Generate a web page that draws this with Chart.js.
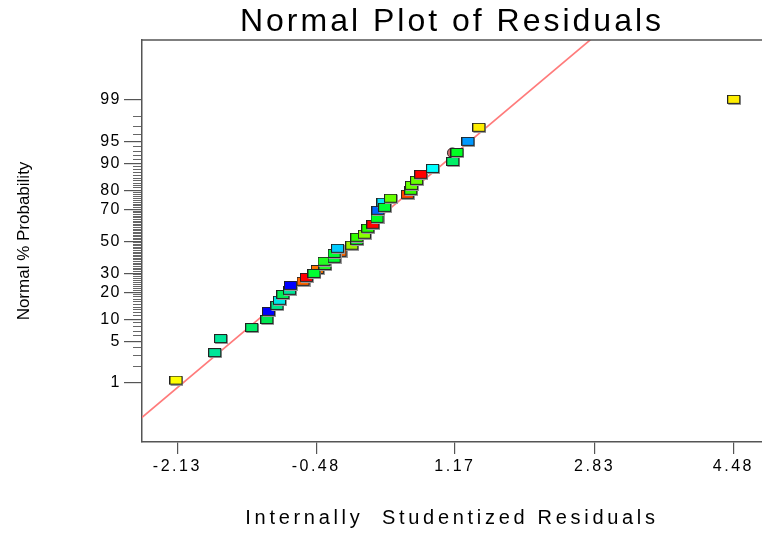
<!DOCTYPE html>
<html>
<head>
<meta charset="utf-8">
<script src="https://cdn.jsdelivr.net/npm/chart.js@4/dist/chart.umd.min.js"></script>
<style>
  html, body { margin: 0; padding: 0; background: #fff; }
</style>
</head>
<body>
<canvas id="residual-chart" width="762" height="534"></canvas>
<script>
// residuals (x) and normal % probability (y)
const residuals = [-2.14, -1.68, -1.61, -1.24, -1.06, -1.04, -0.94, -0.91, -0.87, -0.79,
  -0.78, -0.63, -0.59, -0.46, -0.50, -0.37, -0.38, -0.19, -0.26, -0.26,
  -0.22, -0.05, 0.01, 0.01, 0.10, 0.14, 0.20, 0.25, 0.26, 0.32,
  0.34, 0.41, 0.61, 0.65, 0.66, 0.72, 0.77, 0.91, 1.15, 1.20,
  1.33, 1.46, 4.49];
const probabilities = [1.1, 3.3, 5.4, 7.7, 9.8, 12.3, 14.4, 16.4, 18.9, 20.8,
  23.2, 25.3, 27.4, 31.9, 29.6, 34.3, 36.8, 42.5, 38.7, 41.8,
  45.1, 47.1, 50.3, 52.3, 54.3, 58.2, 60.7, 64.4, 69.2, 73.7,
  70.9, 75.8, 77.8, 79.7, 81.9, 84.0, 86.3, 88.3, 90.4, 92.7,
  94.9, 96.9, 99.0];
const pointColors = ['#ffff00', '#00e699', '#00e699', '#00ee66', '#00e650', '#0000ff', '#00e68c', '#00e5e5', '#00ee55', '#00e699',
  '#0000ff', '#ff6600', '#ff0000', '#ff7700', '#00ff33', '#22ff22', '#22ff22', '#ff6600', '#00ff33', '#00ff33',
  '#00ccff', '#99ee00', '#00ff22', '#33ff00', '#88ff00', '#22ff00', '#ff0000', '#00ff22', '#0066ff', '#00e5ff',
  '#00ff33', '#66ff00', '#ff4400', '#33ff00', '#66ff00', '#66ff00', '#ff0000', '#00ffff', '#00ee66', '#00ff22',
  '#0099ff', '#ffee00', '#ffee00'];

// half hidden round marker behind a square
const circleResiduals = [1.14];
const circleProbabilities = [92.7];

// reference line (residual, normal score)
const lineResiduals = [-3.0, 3.0];
const lineScores = [-3.42, 3.57];

const probTicks = [1, 5, 10, 20, 30, 50, 70, 80, 90, 95, 99];
const xTicks = [-2.13, -0.48, 1.17, 2.83, 4.48];

// inverse normal cdf (Acklam)
function probit(p) {
  const a = [-3.969683028665376e+01, 2.209460984245205e+02, -2.759285104469687e+02, 1.383577518672690e+02, -3.066479806614716e+01, 2.506628277459239e+00];
  const b = [-5.447609879822406e+01, 1.615858368580409e+02, -1.556989798598866e+02, 6.680131188771972e+01, -1.328068155288572e+01];
  const c = [-7.784894002430293e-03, -3.223964580411365e-01, -2.400758277161838e+00, -2.549732539343734e+00, 4.374664141464968e+00, 2.938163982698783e+00];
  const d = [7.784695709041462e-03, 3.224671290700398e-01, 2.445134137142996e+00, 3.754408661907416e+00];
  const pl = 0.02425;
  if (p < pl) {
    const q = Math.sqrt(-2 * Math.log(p));
    return (((((c[0]*q+c[1])*q+c[2])*q+c[3])*q+c[4])*q+c[5]) / ((((d[0]*q+d[1])*q+d[2])*q+d[3])*q+1);
  }
  if (p > 1 - pl) {
    const q = Math.sqrt(-2 * Math.log(1 - p));
    return -(((((c[0]*q+c[1])*q+c[2])*q+c[3])*q+c[4])*q+c[5]) / ((((d[0]*q+d[1])*q+d[2])*q+d[3])*q+1);
  }
  const q = p - 0.5, r = q * q;
  return (((((a[0]*r+a[1])*r+a[2])*r+a[3])*r+a[4])*r+a[5])*q / (((((b[0]*r+b[1])*r+b[2])*r+b[3])*r+b[4])*r+1);
}

// minor ticks at every whole percent
const minorTicks = [];
for (let p = 2; p <= 98; p++) if (!probTicks.includes(p)) minorTicks.push(p);

function marker(color) {
  const c = document.createElement('canvas');
  c.width = 14; c.height = 10;
  const g = c.getContext('2d');
  g.fillStyle = '#9a9a9a';
  g.fillRect(1, 1, 13, 9);
  g.fillStyle = '#222';
  g.fillRect(0, 0, 13, 9);
  g.fillStyle = color;
  g.fillRect(1, 1, 11, 7);
  return c;
}

const FONT = "'Liberation Sans', Arial, sans-serif";
const yMin = -3.3, yMax = 3.31;

const spacing = {
  id: 'spacing',
  beforeDraw(chart) {
    chart.ctx.letterSpacing = '3px';
    for (const s of Object.values(chart.scales)) {
      if (s._spaced) continue;
      s._spaced = true;
      const labelSp = s.id === 'x' ? '2.5px' : '1.5px';
      const titleSp = s.id === 'x' ? '3.7px' : '0px';
      const dl = s.drawLabels, dt = s.drawTitle;
      s.drawLabels = function (area) {
        const old = this.ctx.letterSpacing;
        this.ctx.letterSpacing = labelSp;
        dl.call(this, area);
        this.ctx.letterSpacing = old;
      };
      s.drawTitle = function () {
        const old = this.ctx.letterSpacing;
        this.ctx.letterSpacing = titleSp;
        dt.call(this);
        this.ctx.letterSpacing = old;
      };
    }
  },
  afterDraw(chart) {
    const {ctx, chartArea} = chart;
    ctx.save();
    ctx.letterSpacing = '0px';
    ctx.strokeStyle = '#555';
    ctx.lineWidth = 1.5;
    ctx.beginPath();
    ctx.moveTo(chartArea.left, chartArea.top);
    ctx.lineTo(chartArea.right, chartArea.top);
    ctx.stroke();
    ctx.restore();
  }
};

new Chart(document.getElementById('residual-chart'), {
  type: 'scatter',
  data: {
    datasets: [{
      type: 'line',
      data: lineResiduals.map((x, i) => ({x: x, y: lineScores[i]})),
      borderColor: '#ff7b7b',
      borderWidth: 1.7,
      pointRadius: 0,
      order: 4
    }, {
      data: circleResiduals.map((x, i) => ({x: x, y: probit(circleProbabilities[i] / 100)})),
      pointStyle: 'circle',
      pointRadius: 5,
      backgroundColor: '#c86a6a',
      borderColor: '#333',
      borderWidth: 1,
      order: 3
    }, {
      data: residuals.map((x, i) => ({x: x, y: probit(probabilities[i] / 100)})),
      pointStyle: pointColors.map(marker),
      pointRadius: 6,
      order: 1
    }]
  },
  options: {
    responsive: false,
    animation: false,
    layout: { padding: 0, autoPadding: false },
    plugins: {
      legend: { display: false },
      tooltip: { enabled: false },
      title: {
        display: true,
        text: 'Normal Plot of Residuals',
        fullSize: false,
        color: '#000',
        font: { family: FONT, size: 32, weight: 'normal', lineHeight: 1.1 },
        padding: { top: 4.8, bottom: 0 }
      }
    },
    scales: {
      x: {
        type: 'linear',
        min: -2.55,
        max: 4.82,
        afterBuildTicks: s => { s.ticks = xTicks.map(v => ({value: v})); },
        afterFit: s => { s.height = 92; },
        ticks: {
          callback: v => v.toFixed(2),
          color: '#000',
          font: { family: FONT, size: 16 },
          padding: 3,
          maxRotation: 0,
          autoSkip: false
        },
        grid: { drawOnChartArea: false, tickLength: 12, color: '#555', lineWidth: 1.2 },
        border: { color: '#555', width: 1.5 },
        title: {
          display: true,
          text: 'Internally  Studentized Residuals',
          color: '#000',
          font: { family: FONT, size: 20 },
          padding: { top: 0, bottom: 4 }
        }
      },
      y: {
        type: 'linear',
        position: 'left',
        weight: 1,
        min: yMin,
        max: yMax,
        afterBuildTicks: s => { s.ticks = probTicks.map(p => ({value: probit(p / 100)})); },
        afterFit: s => { s.width = 142; },
        ticks: {
          callback: (v, i) => String(probTicks[i]),
          color: '#000',
          font: { family: FONT, size: 16 },
          padding: 3,
          autoSkip: false
        },
        grid: { drawOnChartArea: false, tickLength: 18, color: '#555', lineWidth: 1.2 },
        border: { color: '#555', width: 1.5 },
        title: {
          display: true,
          text: 'Normal % Probability',
          color: '#000',
          font: { family: FONT, size: 17 },
          padding: { top: 14, bottom: 0 }
        }
      },
      yMinor: {
        type: 'linear',
        position: 'left',
        weight: 0,
        min: yMin,
        max: yMax,
        afterBuildTicks: s => { s.ticks = minorTicks.map(p => ({value: probit(p / 100)})); },
        afterFit: s => { s.width = 0; },
        ticks: { display: false },
        grid: { drawOnChartArea: false, tickLength: 9, color: '#666', lineWidth: 1 },
        border: { display: false }
      }
    }
  },
  plugins: [spacing]
});
</script>
</body>
</html>
